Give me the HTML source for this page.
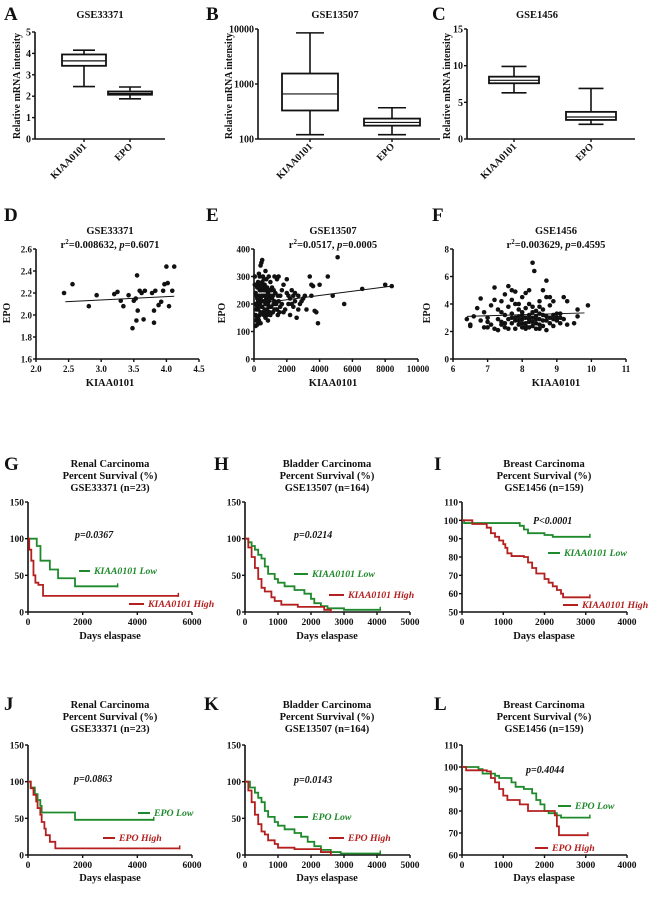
<!DOCTYPE html>
<html><head><meta charset="utf-8">
<style>
html,body{margin:0;padding:0;background:#fff;}
svg{display:block;font-family:"Liberation Serif",serif;font-weight:bold;}
</style></head>
<body>
<svg id="fig" width="650" height="899" viewBox="0 0 650 899" xmlns="http://www.w3.org/2000/svg"></svg>
<script>
// ---------- DATA ----------
const boxCats=["KIAA0101","EPO"];
const boxA=[[2.45,3.42,3.65,3.95,4.15],[1.88,2.07,2.13,2.22,2.43]];
const boxB=[[120,330,660,1550,8500],[120,175,200,235,370]];
const boxC=[[6.3,7.6,8.0,8.5,9.9],[2.0,2.6,3.0,3.7,6.9]];
const ticksA=[0,1,2,3,4,5];
const ticksB=[100,1000,10000];
const ticksC=[0,5,10,15];

const dX=[2.43,2.56,2.81,2.93,3.2,3.25,3.3,3.34,3.42,3.48,3.5,3.53,3.54,3.56,3.55,3.59,3.62,3.65,3.67,3.78,3.81,3.81,3.83,3.88,3.92,3.95,3.97,4.0,4.02,4.04,4.09,4.12];
const dY=[2.2,2.28,2.08,2.18,2.19,2.21,2.13,2.08,2.18,1.88,2.13,2.15,1.95,2.04,2.36,2.22,2.2,1.96,2.22,2.2,2.04,1.93,2.22,2.09,2.12,2.22,2.28,2.44,2.29,2.08,2.22,2.44];
const dFit=[[2.45,2.12],[4.12,2.17]];
const ePts=[[100,120],[150,140],[200,125],[250,180],[300,200],[350,160],[400,220],[450,250],[500,190],[550,170],[600,210],[650,230],[700,150],[750,200],[800,180],[850,240],[900,210],[950,170],[1000,190],[1100,220],[1200,200],[1300,240],[1400,180],[1500,210],[100,200],[150,230],[200,260],[250,280],[300,310],[350,300],[400,340],[450,350],[500,360],[550,300],[600,290],[650,270],[700,320],[750,290],[800,260],[900,300],[1000,280],[1100,260],[1200,250],[1400,290],[1500,300],[100,160],[150,180],[200,190],[250,210],[300,230],[350,250],[400,270],[450,190],[500,210],[550,230],[600,250],[650,180],[700,200],[750,220],[800,160],[850,140],[900,190],[950,220],[1000,160],[1050,250],[1150,170],[1250,180],[1350,200],[1450,160],[1600,190],[1700,200],[1800,170],[1900,180],[2000,240],[2100,230],[2200,220],[2300,200],[2400,230],[2500,210],[2600,150],[2700,180],[2800,200],[2900,210],[3000,220],[3100,230],[2000,290],[2200,160],[2300,250],[2500,240],[2700,230],[1800,270],[1600,230],[1700,250],[2100,200],[2400,190],[3400,300],[3500,270],[3600,265],[3700,175],[3800,170],[3900,130],[4000,270],[4500,300],[4800,230],[5100,370],[5500,200],[6600,255],[8000,270],[8400,265],[3500,230],[3200,180],[50,270],[50,300],[100,240],[200,150],[300,140],[400,130],[500,280],[600,160],[700,250],[800,230],[300,260],[400,170],[200,220],[150,270],[250,150],[350,200],[450,230],[550,260],[650,210],[750,170],[850,200],[950,250],[1050,190],[1150,230],[1250,210],[1350,180],[1450,230],[1550,170],[1250,300],[1000,230]];
const eFit=[[0,200],[8400,265]];
const fPts=[[6.4,2.9],[6.5,2.4],[6.5,2.5],[6.6,3.1],[6.7,3.7],[6.8,2.8],[6.8,4.4],[6.9,2.3],[7.0,3.0],[7.0,2.7],[7.1,2.5],[7.1,3.9],[7.2,2.2],[7.2,4.3],[7.2,5.2],[7.3,2.9],[7.3,2.1],[7.3,3.6],[7.4,4.2],[7.4,2.5],[7.4,2.7],[7.5,3.2],[7.5,4.7],[7.5,2.3],[7.6,5.3],[7.6,2.9],[7.6,3.8],[7.7,2.6],[7.7,4.3],[7.7,5.0],[7.7,3.3],[7.8,2.2],[7.8,2.8],[7.8,4.0],[7.8,4.9],[7.9,3.1],[7.9,2.5],[7.9,3.6],[8.0,2.3],[8.0,2.9],[8.0,4.5],[8.0,3.4],[8.1,2.6],[8.1,3.0],[8.1,4.8],[8.1,2.2],[8.2,3.2],[8.2,2.7],[8.2,4.0],[8.2,5.0],[8.3,7.0],[8.3,2.4],[8.3,3.8],[8.3,3.0],[8.35,6.4],[8.4,2.6],[8.4,3.5],[8.4,2.2],[8.5,2.9],[8.5,4.2],[8.5,3.3],[8.5,2.5],[8.6,5.0],[8.6,2.8],[8.6,3.6],[8.7,5.7],[8.7,2.1],[8.7,4.5],[8.7,3.1],[8.8,2.6],[8.8,3.9],[8.8,4.5],[8.9,2.4],[8.9,3.2],[8.9,4.2],[9.0,2.8],[9.0,3.0],[9.1,2.6],[9.1,3.3],[9.2,4.5],[9.2,2.9],[9.3,4.2],[9.3,2.5],[9.5,2.6],[9.6,3.6],[9.6,3.1],[9.9,3.9],[6.9,3.4],[7.0,2.3],[7.6,2.2],[7.8,3.0],[7.9,2.8],[8.0,2.6],[8.1,2.4],[8.2,2.3],[8.3,2.7],[8.4,2.9],[8.4,3.1],[8.5,2.2],[8.6,2.4],[8.7,2.8],[8.8,3.0],[8.9,2.9],[9.0,3.3],[8.0,3.2],[7.7,3.0],[7.5,2.6],[7.4,3.4],[8.3,3.4],[8.6,3.2],[8.2,2.9],[8.1,3.7],[7.9,4.0],[8.5,3.8],[9.1,3.0]];
const fFit=[[6.4,3.1],[9.8,3.35]];
const ticksDx=[2.0,2.5,3.0,3.5,4.0,4.5], ticksDy=[1.6,1.8,2.0,2.2,2.4,2.6];
const ticksEx=[0,2000,4000,6000,8000,10000], ticksEy=[0,100,200,300,400];
const ticksFx=[6,7,8,9,10,11], ticksFy=[0,2,4,6,8];

const gLow=[[0,100],[320,90],[456,70],[800,58],[1100,46],[1720,35],[3280,35]];
const gHigh=[[0,100],[45,85],[120,70],[200,50],[270,40],[380,37],[550,22],[5500,22]];
const hLow=[[0,100],[100,95],[200,90],[300,85],[400,78],[500,73],[600,62],[700,52],[900,45],[1000,40],[1200,35],[1500,30],[1800,25],[2000,18],[2100,12],[2300,8],[2500,5],[3000,3],[4100,3]];
const hHigh=[[0,100],[100,88],[200,75],[300,60],[400,45],[500,33],[600,28],[800,20],[900,15],[1100,10],[1600,7],[2400,3],[2600,0]];
const iLow=[[0,100],[50,98.5],[1400,97],[1500,95],[1600,93],[2000,92],[2200,91],[3100,91]];
const iHigh=[[0,100],[250,98],[600,96],[700,93],[800,91],[900,89],[1000,87],[1050,85],[1100,82],[1200,80.5],[1500,80],[1600,77],[1700,74],[1800,71],[2000,68],[2100,66],[2200,64],[2300,62],[2400,60],[2450,58],[3100,58]];
const jLow=[[0,100],[100,92],[250,83],[350,75],[450,67],[500,58],[1720,48],[4600,48]];
const jHigh=[[0,100],[100,91],[200,82],[300,73],[350,64],[450,55],[500,45],[600,36],[650,27],[800,18],[1000,9],[5550,9]];
const kLow=[[0,100],[150,92],[300,85],[400,78],[500,72],[600,60],[700,52],[900,45],[1000,40],[1200,35],[1500,30],[1700,25],[1900,18],[2100,12],[2300,7],[2600,4],[2900,2],[4100,2]];
const kHigh=[[0,100],[100,88],[200,72],[300,55],[400,42],[500,32],[600,28],[700,20],[900,15],[1000,10],[1500,8],[2300,4],[2600,0]];
const lLow=[[0,100],[400,99],[500,97],[800,96],[900,95],[1200,93],[1300,91],[1500,90],[1700,88],[1800,85],[1900,83],[2000,80],[2100,79],[2300,78],[2400,77],[3100,77]];
const lHigh=[[0,100],[100,98.5],[600,98],[700,95],[800,93],[900,90],[1000,87],[1100,85],[1400,83],[1600,80],[2200,80],[2250,78],[2300,73],[2350,69],[3050,69]];
const kmX6=[0,2000,4000,6000], kmX5=[0,1000,2000,3000,4000,5000], kmX4=[0,1000,2000,3000,4000];
const kmY150=[0,50,100,150], kmYI=[50,60,70,80,90,100,110], kmYL=[60,70,80,90,100,110];

// ---------- DRAWING ----------
const NS="http://www.w3.org/2000/svg";
const svg=document.getElementById('fig');
const GREEN="#1f8a2c", RED="#b3201f";
function mk(tag,a){const e=document.createElementNS(NS,tag);for(const k in a)e.setAttribute(k,a[k]);svg.appendChild(e);return e;}
function txt(x,y,s,size,anchor,extra){const t=mk('text',Object.assign({x:x,y:y,'font-size':size,'text-anchor':anchor||'middle',fill:'#111'},extra||{}));t.textContent=s;return t;}

function axes(p){
  const sy=v=>p.log? p.y0-(Math.log10(v)-Math.log10(p.ymin))/(Math.log10(p.ymax)-Math.log10(p.ymin))*(p.y0-p.y1)
                   : p.y0-(v-p.ymin)/(p.ymax-p.ymin)*(p.y0-p.y1);
  p.sx=(v)=>p.x0+(v-p.xmin)/(p.xmax-p.xmin)*(p.x1-p.x0); p.sy=sy;
  let a=mk('line',{x1:p.x0,y1:p.y1,x2:p.x0,y2:p.y0,stroke:'#111','stroke-width':1.6});
  
  
  let b=mk('line',{x1:p.x0,y1:p.y0,x2:p.x1,y2:p.y0,stroke:'#111','stroke-width':1.6});
  
  
  p.yt.forEach(v=>{
    const y=sy(v);
    let t=mk('line',{x1:p.x0-3,y1:y,x2:p.x0,y2:y,stroke:'#111','stroke-width':1.4});
    
    
    let l=txt(p.x0-4,y+3.5,p.yf?p.yf(v):String(v),p.fs||10,'end');
    
    
  });
  (p.xt||[]).forEach(v=>{
    const x=p.sx(v);
    let t=mk('line',{x1:x,y1:p.y0,x2:x,y2:p.y0+3,stroke:'#111','stroke-width':1.4});
    
    
    let l=txt(x,p.y0+13,p.xf?p.xf(v):String(v),p.fs||10,'middle');
    
    
  });
}
function letter(x,y,s){let t=txt(x,y,s,19,'start');
  
  }
function title(x,y,lines){lines.forEach((s,i)=>{let t=txt(x,y+i*12,s,10.5,'middle');
  
  });}
function ylab(x,y,s){let t=txt(x,y,s,10,'middle',{transform:`rotate(-90 ${x} ${y})`});
  
  }
function xlab(x,y,s){let t=txt(x,y,s,10.5,'middle');
  
  }

function boxPanel(p,data,cx,w){
  axes(p);
  data.forEach((d,i)=>{
    const c=cx[i],[mn,q1,md,q3,mx]=d.map(p.sy);
    let wl=mk('line',{x1:c,y1:mx,x2:c,y2:mn,stroke:'#111','stroke-width':1.6});
    
    
    [mn,mx].forEach(y=>{let cap=mk('line',{x1:c-w/4,y1:y,x2:c+w/4,y2:y,stroke:'#111','stroke-width':1.6});
      
      });
    let r=mk('rect',{x:c-w/2,y:q3,width:w,height:q1-q3,fill:'#fff',stroke:'#111','stroke-width':1.8});
    
    
    let m=mk('line',{x1:c-w/2,y1:md,x2:c+w/2,y2:md,stroke:'#111','stroke-width':1.2});
    
    
    let tk=mk('line',{x1:c,y1:p.y0,x2:c,y2:p.y0+3,stroke:'#111','stroke-width':1.4});
    
    
    let lb=txt(c+3,p.y0+8,boxCats[i],10,'end',{transform:`rotate(-45 ${c+3} ${p.y0+8})`});
    
    
  });
}
function scatter(p,xs,ys,fit){
  axes(p);
  xs.forEach((x,i)=>{let c=mk('circle',{cx:p.sx(x),cy:p.sy(ys[i]),r:2.3,fill:'#111'});
    
    });
  let f=mk('line',{x1:p.sx(fit[0][0]),y1:p.sy(fit[0][1]),x2:p.sx(fit[1][0]),y2:p.sy(fit[1][1]),stroke:'#111','stroke-width':1});
  
  
}
function km(p,curve,color,name){
  let d='M'+p.sx(curve[0][0])+','+p.sy(curve[0][1]);
  for(let i=1;i<curve.length;i++){d+=' H'+p.sx(curve[i][0])+' V'+p.sy(curve[i][1]);}
  let path=mk('path',{d:d,fill:'none',stroke:color,'stroke-width':1.8});
  
  
  const last=curve[curve.length-1];
  let tk=mk('line',{x1:p.sx(last[0]),y1:p.sy(last[1])-3,x2:p.sx(last[0]),y2:p.sy(last[1])+1,stroke:color,'stroke-width':1.5});
  
  
}
function legend(x1,x2,y,s,color){
  let l=mk('line',{x1:x1,y1:y-3,x2:x2,y2:y-3,stroke:color,'stroke-width':2});
  
  
  let t=txt(x2+4,y,s,9.8,'start',{fill:color,'font-style':'italic'});
  
  
}
function pval(x,y,s){let t=txt(x,y,s,10,'start',{'font-style':'italic'});
  
  }
function stats(x,y,r2,p){let t=txt(x,y,'',10.5,'middle');
  t.innerHTML='r<tspan dy="-4" font-size="7">2</tspan><tspan dy="4">='+r2+', </tspan><tspan font-style="italic">p</tspan>='+p;
  
  }

// Row 1 boxplots
letter(4,20,'A'); title(100,18,['GSE33371']);
boxPanel({x0:35,x1:165,y0:139,y1:32,xmin:0,xmax:1,ymin:0,ymax:5,yt:ticksA},boxA,[84,130],44);
ylab(20,86,'Relative mRNA intensity');
letter(206,20,'B'); title(335,18,['GSE13507']);
boxPanel({x0:258,x1:440,y0:139,y1:29,xmin:0,xmax:1,ymin:100,ymax:10000,log:true,yt:ticksB},boxB,[310,392],56);
ylab(232,86,'Relative mRNA intensity');
letter(432,20,'C'); title(537,18,['GSE1456']);
boxPanel({x0:467,x1:635,y0:139,y1:29,xmin:0,xmax:1,ymin:0,ymax:15,yt:ticksC},boxC,[514,591],50);
ylab(450,86,'Relative mRNA intensity');

// Row 2 scatter
letter(4,221,'D'); letter(206,221,'E'); letter(432,221,'F');
scatter({x0:36,x1:199,y0:359,y1:249,xmin:2.0,xmax:4.5,ymin:1.6,ymax:2.6,yt:ticksDy,xt:ticksDx,xf:v=>v.toFixed(1),yf:v=>v.toFixed(1),fs:9},dX,dY,dFit);
title(110,234,['GSE33371']); stats(110,248,'0.008632','0.6071');
ylab(10,313,'EPO'); xlab(110,386,'KIAA0101');

scatter({x0:254,x1:418,y0:359,y1:249,xmin:0,xmax:10000,ymin:0,ymax:400,yt:ticksEy,xt:ticksEx,fs:9},ePts.map(q=>q[0]),ePts.map(q=>q[1]),eFit);
title(333,234,['GSE13507']); stats(333,248,'0.0517','0.0005');
ylab(225,313,'EPO'); xlab(333,386,'KIAA0101');

scatter({x0:453,x1:626,y0:359,y1:249,xmin:6,xmax:11,ymin:0,ymax:8,yt:ticksFy,xt:ticksFx,fs:9},fPts.map(q=>q[0]),fPts.map(q=>q[1]),fFit);
title(556,234,['GSE1456']); stats(556,248,'0.003629','0.4595');
ylab(430,313,'EPO'); xlab(556,386,'KIAA0101');

// Row 3 KM (KIAA0101)
letter(4,470,'G'); letter(214,470,'H'); letter(434,470,'I');
const G={x0:28,x1:192,y0:612,y1:502,xmin:0,xmax:6000,ymin:0,ymax:150,yt:kmY150,xt:kmX6,fs:9.5};
axes(G); km(G,gLow,GREEN,'km-kiaa0101-low'); km(G,gHigh,RED,'km-kiaa0101-high');
title(110,467,['Renal Carcinoma','Percent Survival (%)','GSE33371 (n=23)']);
pval(75,538,'p=0.0367'); legend(79,90,574,'KIAA0101 Low',GREEN); legend(129,144,607,'KIAA0101 High',RED);
xlab(110,639,'Days elaspase');

const H={x0:245,x1:410,y0:612,y1:502,xmin:0,xmax:5000,ymin:0,ymax:150,yt:kmY150,xt:kmX5,fs:9.5};
axes(H); km(H,hLow,GREEN,'km-kiaa0101-low'); km(H,hHigh,RED,'km-kiaa0101-high');
title(327,467,['Bladder Carcinoma','Percent Survival (%)','GSE13507 (n=164)']);
pval(294,538,'p=0.0214'); legend(294,308,577,'KIAA0101 Low',GREEN); legend(329,344,598,'KIAA0101 High',RED);
xlab(327,639,'Days elaspase');

const I={x0:462,x1:627,y0:612,y1:502,xmin:0,xmax:4000,ymin:50,ymax:110,yt:kmYI,xt:kmX4,fs:9.5};
axes(I); km(I,iLow,GREEN,'km-kiaa0101-low'); km(I,iHigh,RED,'km-kiaa0101-high');
title(544,467,['Breast Carcinoma','Percent Survival (%)','GSE1456 (n=159)']);
pval(533,524,'P<0.0001'); legend(548,560,556,'KIAA0101 Low',GREEN); legend(563,578,608,'KIAA0101 High',RED);
xlab(544,639,'Days elaspase');

// Row 4 KM (EPO)
letter(4,710,'J'); letter(204,710,'K'); letter(434,710,'L');
const J={x0:28,x1:192,y0:855,y1:745,xmin:0,xmax:6000,ymin:0,ymax:150,yt:kmY150,xt:kmX6,fs:9.5};
axes(J); km(J,jLow,GREEN,'km-epo-low'); km(J,jHigh,RED,'km-epo-high');
title(110,708,['Renal Carcinoma','Percent Survival (%)','GSE33371 (n=23)']);
pval(74,782,'p=0.0863'); legend(138,150,816,'EPO Low',GREEN); legend(103,115,841,'EPO High',RED);
xlab(110,881,'Days elaspase');

const K={x0:245,x1:410,y0:855,y1:745,xmin:0,xmax:5000,ymin:0,ymax:150,yt:kmY150,xt:kmX5,fs:9.5};
axes(K); km(K,kLow,GREEN,'km-epo-low'); km(K,kHigh,RED,'km-epo-high');
title(327,708,['Bladder Carcinoma','Percent Survival (%)','GSE13507 (n=164)']);
pval(294,783,'p=0.0143'); legend(294,308,820,'EPO Low',GREEN); legend(329,344,841,'EPO High',RED);
xlab(327,881,'Days elaspase');

const L={x0:462,x1:627,y0:855,y1:745,xmin:0,xmax:4000,ymin:60,ymax:110,yt:kmYL,xt:kmX4,fs:9.5};
axes(L); km(L,lLow,GREEN,'km-epo-low'); km(L,lHigh,RED,'km-epo-high');
title(544,708,['Breast Carcinoma','Percent Survival (%)','GSE1456 (n=159)']);
pval(526,773,'p=0.4044'); legend(558,571,809,'EPO Low',GREEN); legend(535,548,851,'EPO High',RED);
xlab(544,881,'Days elaspase');
</script>
</body></html>
